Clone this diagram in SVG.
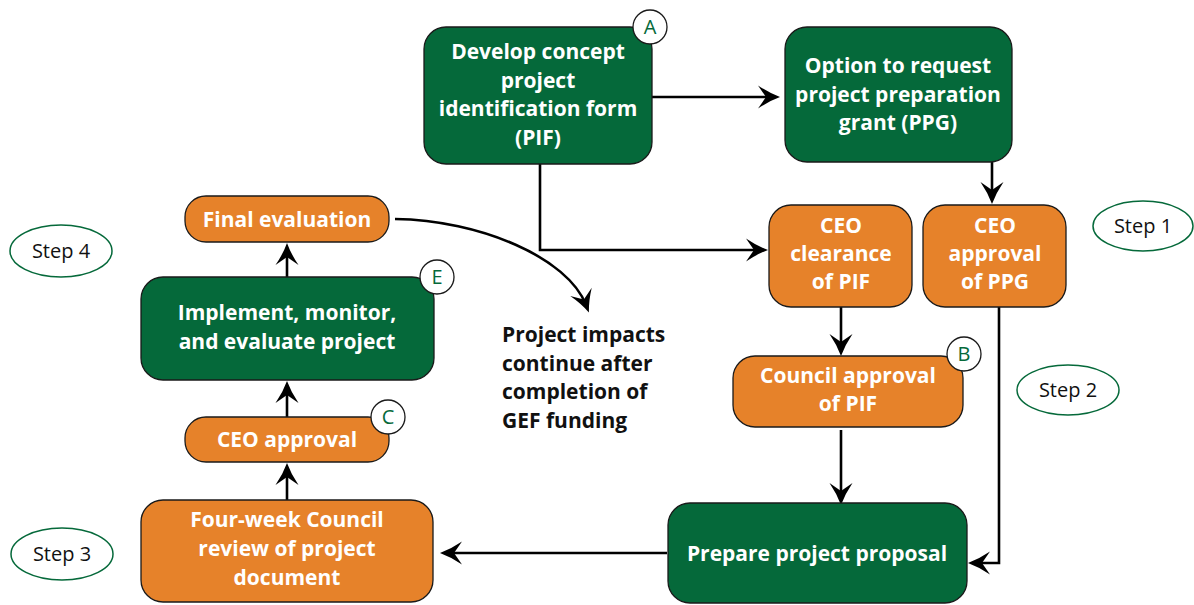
<svg xmlns="http://www.w3.org/2000/svg" width="1194" height="605" viewBox="0 0 1194 605">
  <style>
    .green { fill: #05693a; stroke: #1a1a1a; stroke-width: 1.3; }
    .orange { fill: #e6822a; stroke: #1a1a1a; stroke-width: 1.3; }
    .label { font-family: "Open Sans", "Liberation Sans", sans-serif; font-weight: bold; font-size: 21px; fill: #ffffff; text-anchor: middle; }
    .note { font-family: "Open Sans", "Liberation Sans", sans-serif; font-weight: bold; font-size: 21px; fill: #111111; }
    .badge { fill: #ffffff; stroke: #1a1a1a; stroke-width: 1.3; }
    .badge-text { font-family: "Open Sans", "Liberation Sans", sans-serif; font-size: 20px; fill: #05693a; text-anchor: middle; }
    .step { fill: #ffffff; stroke: #05693a; stroke-width: 1.5; }
    .step-text { font-family: "Open Sans", "Liberation Sans", sans-serif; font-size: 20px; fill: #111111; text-anchor: middle; }
    .link { fill: none; stroke: #000000; stroke-width: 2.6; marker-end: url(#arrow); }
  </style>
  <defs>
    <marker id="arrow" markerUnits="userSpaceOnUse" viewBox="-24 -13 26 26" markerWidth="26" markerHeight="26" refX="-8" refY="0" orient="auto">
      <path d="M0,0 Q-11,-4 -22,-11.5 L-14,0 L-22,11.5 Q-11,4 0,0 Z" fill="#000000"/>
    </marker>
  </defs>

  <!-- connectors -->
  <g id="connectors">
    <path class="link" d="M652,97 L772,97"/>
    <path class="link" d="M540,164 L540,250 L760,250"/>
    <path class="link" d="M992,162 L992,196"/>
    <path class="link" d="M841,307 L841,348"/>
    <path class="link" d="M841,430 L841,497"/>
    <path class="link" d="M999,307 L999,563 L976,563"/>
    <path class="link" d="M667,553 L448,553"/>
    <path class="link" d="M287,500 L287,471"/>
    <path class="link" d="M287,417 L287,389"/>
    <path class="link" d="M287,277 L287,251"/>
    <path class="link" d="M395,219 C480,220 568,258 586,305"/>
  </g>

  <!-- process nodes -->
  <g id="node-develop-pif">
    <rect class="green" x="424" y="27" width="228" height="137" rx="22"/>
    <text class="label" x="538" y="59">Develop concept</text>
    <text class="label" x="538" y="88">project</text>
    <text class="label" x="538" y="116">identification form</text>
    <text class="label" x="538" y="145">(PIF)</text>
    <circle class="badge" cx="650" cy="27" r="17"/>
    <text class="badge-text" x="650" y="34">A</text>
  </g>

  <g id="node-ppg-option">
    <rect class="green" x="785" y="27" width="227" height="135" rx="22"/>
    <text class="label" x="898" y="73">Option to request</text>
    <text class="label" x="898" y="102">project preparation</text>
    <text class="label" x="898" y="130">grant (PPG)</text>
  </g>

  <g id="node-ceo-clearance">
    <rect class="orange" x="769" y="205" width="143" height="102" rx="22"/>
    <text class="label" x="841" y="233">CEO</text>
    <text class="label" x="841" y="261">clearance</text>
    <text class="label" x="841" y="289">of PIF</text>
  </g>

  <g id="node-ceo-ppg">
    <rect class="orange" x="923" y="205" width="143" height="102" rx="22"/>
    <text class="label" x="995" y="233">CEO</text>
    <text class="label" x="995" y="261">approval</text>
    <text class="label" x="995" y="289">of PPG</text>
  </g>

  <g id="node-council-pif">
    <rect class="orange" x="733" y="356" width="230" height="71" rx="22"/>
    <text class="label" x="848" y="383">Council approval</text>
    <text class="label" x="848" y="411">of PIF</text>
    <circle class="badge" cx="964" cy="354" r="17"/>
    <text class="badge-text" x="964" y="361">B</text>
  </g>

  <g id="node-prepare">
    <rect class="green" x="668" y="503" width="299" height="100" rx="22"/>
    <text class="label" x="817" y="561">Prepare project proposal</text>
  </g>

  <g id="node-council-review">
    <rect class="orange" x="141" y="500" width="292" height="102" rx="22"/>
    <text class="label" x="287" y="527">Four-week Council</text>
    <text class="label" x="287" y="556">review of project</text>
    <text class="label" x="287" y="585">document</text>
  </g>

  <g id="node-ceo-approval">
    <rect class="orange" x="185" y="417" width="204" height="45" rx="21"/>
    <text class="label" x="287" y="447">CEO approval</text>
    <circle class="badge" cx="388" cy="417" r="17"/>
    <text class="badge-text" x="388" y="424">C</text>
  </g>

  <g id="node-implement">
    <rect class="green" x="141" y="277" width="293" height="103" rx="22"/>
    <text class="label" x="287" y="320">Implement, monitor,</text>
    <text class="label" x="287" y="349">and evaluate project</text>
    <circle class="badge" cx="437" cy="277" r="17"/>
    <text class="badge-text" x="437" y="284">E</text>
  </g>

  <g id="node-final-evaluation">
    <rect class="orange" x="185" y="196" width="204" height="46" rx="21"/>
    <text class="label" x="287" y="227">Final evaluation</text>
  </g>

  <g id="note-impacts">
    <text class="note" x="502" y="342">Project impacts</text>
    <text class="note" x="502" y="371">continue after</text>
    <text class="note" x="502" y="399">completion of</text>
    <text class="note" x="502" y="428">GEF funding</text>
  </g>

  <!-- step markers -->
  <g id="step-1">
    <ellipse class="step" cx="1143" cy="226" rx="50" ry="25"/>
    <text class="step-text" x="1143" y="233">Step 1</text>
  </g>
  <g id="step-2">
    <ellipse class="step" cx="1068" cy="390" rx="51" ry="25"/>
    <text class="step-text" x="1068" y="397">Step 2</text>
  </g>
  <g id="step-3">
    <ellipse class="step" cx="62" cy="554" rx="51" ry="26"/>
    <text class="step-text" x="62" y="561">Step 3</text>
  </g>
  <g id="step-4">
    <ellipse class="step" cx="61" cy="251" rx="51" ry="26"/>
    <text class="step-text" x="61" y="258">Step 4</text>
  </g>
</svg>
